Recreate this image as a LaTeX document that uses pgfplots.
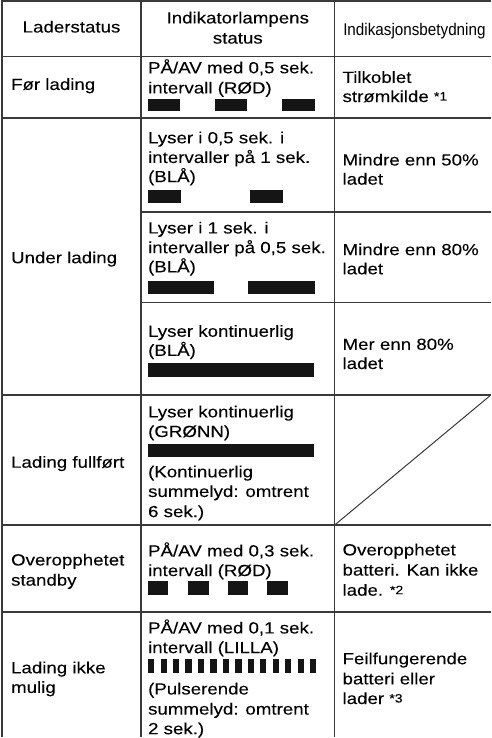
\documentclass[border=0pt]{standalone}
\usepackage{pgfplots}
\pgfplotsset{compat=1.18}
\usepackage{fontspec}
\setmainfont{Liberation Sans}[FakeStretch=1.16, FakeBold=0.05]
\newfontfamily\condfont{Liberation Sans}[FakeStretch=0.9]
\definecolor{rulec}{HTML}{3A3A3A}
\definecolor{barc}{HTML}{151515}
\begin{document}
\begin{tikzpicture}[
  txt/.style={anchor=base west, inner sep=0pt, outer sep=0pt, text=black, font=\fontsize{16}{20}\selectfont},
  ctxt/.style={anchor=base, inner sep=0pt, outer sep=0pt, text=black, font=\fontsize{16}{20}\selectfont}]
\newcommand{\fn}[1]{\raisebox{1.5pt}{\fontsize{12}{12}\selectfont *#1}}
\begin{axis}[width=490pt, height=738pt, scale only axis,
  xmin=0, xmax=490, ymin=0, ymax=738, y dir=reverse,
  hide axis, clip=false]
% ---- table rules ----
\addplot[rulec, line width=2pt, mark=none] coordinates {(4,8) (490,8)};
\addplot[rulec, line width=1.4pt, mark=none, unbounded coords=jump] coordinates {
  (5,63) (490,63) (nan,nan)
  (5,124) (490,124) (nan,nan)
  (143,217) (490,217) (nan,nan)
  (143,307) (490,307) (nan,nan)
  (5,399) (490,399) (nan,nan)
  (5,528) (490,528) (nan,nan)
  (5,614) (490,614)};
\addplot[rulec, line width=2.5pt, mark=none] coordinates {(5,8) (5,738)};
\addplot[rulec, line width=1.4pt, mark=none, unbounded coords=jump] coordinates {
  (143,8) (143,738) (nan,nan) (335,8) (335,738)};
\addplot[rulec, line width=1pt, mark=none] coordinates {(335,528) (490,399)};
% ---- indicator patterns (on-segments) ----
\addplot[barc, line width=12.5pt, mark=none, unbounded coords=jump] coordinates {
  (150,111) (182,111) (nan,nan) (216,111) (248,111) (nan,nan) (283,111) (316,111)};
\addplot[barc, line width=13pt, mark=none, unbounded coords=jump] coordinates {
  (150,201.5) (183,201.5) (nan,nan) (251,201.5) (284,201.5)};
\addplot[barc, line width=13pt, mark=none, unbounded coords=jump] coordinates {
  (150,292.5) (215,292.5) (nan,nan) (249,292.5) (316,292.5)};
\addplot[barc, line width=13.5pt, mark=none] coordinates {(150,374) (315,374)};
\addplot[barc, line width=12.5pt, mark=none] coordinates {(150,454) (315,454)};
\addplot[barc, line width=14pt, mark=none, unbounded coords=jump] coordinates {
  (150,590) (170,590) (nan,nan) (190,590) (210,590) (nan,nan)
  (229,590) (249,590) (nan,nan) (268,590) (289,590)};
\addplot[barc, line width=14pt, mark=none, unbounded coords=jump] coordinates {
  (150,668) (156,668) (nan,nan) (162.4,668) (168.4,668) (nan,nan)
  (174.8,668) (180.8,668) (nan,nan) (187.1,668) (193.1,668) (nan,nan)
  (199.5,668) (205.5,668) (nan,nan) (211.9,668) (217.9,668) (nan,nan)
  (224.3,668) (230.3,668) (nan,nan) (236.7,668) (242.7,668) (nan,nan)
  (249.0,668) (255.0,668) (nan,nan) (261.4,668) (267.4,668) (nan,nan)
  (273.8,668) (279.8,668) (nan,nan) (286.2,668) (292.2,668) (nan,nan)
  (298.6,668) (304.6,668) (nan,nan) (311,668) (317,668)};
% ---- header ----
\node[ctxt] at (axis cs:74,39) {Laderstatus};
\node[ctxt] at (axis cs:239,30) {Indikatorlampens};
\node[ctxt] at (axis cs:239,50) {status};
\node[anchor=base west, inner sep=0pt, font=\condfont\fontsize{16.8}{20}\selectfont] at (axis cs:343.5,42) {Indikasjonsbetydning};
% ---- row: Før lading ----
\node[txt] at (axis cs:14,96) {Før lading};
\node[txt] at (axis cs:150,79.5) {PÅ/AV med 0,5 sek.};
\node[txt] at (axis cs:150,99.5) {intervall (RØD)};
\node[txt] at (axis cs:343,89) {Tilkoblet};
\node[txt] at (axis cs:343,108) {strømkilde \fn{1}};
% ---- rows: Under lading ----
\node[txt] at (axis cs:14,268) {Under lading};
\node[txt] at (axis cs:150,149) {Lyser i 0,5 sek. i};
\node[txt] at (axis cs:150,168.5) {intervaller på 1 sek.};
\node[txt] at (axis cs:150,187.5) {(BLÅ)};
\node[txt] at (axis cs:343,171) {Mindre enn 50\%};
\node[txt] at (axis cs:343,190) {ladet};
\node[txt] at (axis cs:150,238.5) {Lyser i 1 sek. i};
\node[txt] at (axis cs:150,258) {intervaller på 0,5 sek.};
\node[txt] at (axis cs:150,277) {(BLÅ)};
\node[txt] at (axis cs:343,260) {Mindre enn 80\%};
\node[txt] at (axis cs:343,279) {ladet};
\node[txt] at (axis cs:150,341) {Lyser kontinuerlig};
\node[txt] at (axis cs:150,360) {(BLÅ)};
\node[txt] at (axis cs:343,354) {Mer enn 80\%};
\node[txt] at (axis cs:343,373) {ladet};
% ---- row: Lading fullført ----
\node[txt] at (axis cs:14,471) {Lading fullført};
\node[txt] at (axis cs:150,421) {Lyser kontinuerlig};
\node[txt] at (axis cs:150,440.5) {(GRØNN)};
\node[txt] at (axis cs:150,480.5) {(Kontinuerlig};
\node[txt] at (axis cs:150,500) {summelyd: omtrent};
\node[txt] at (axis cs:150,520) {6 sek.)};
% ---- row: Overopphetet standby ----
\node[txt] at (axis cs:14,568) {Overopphetet};
\node[txt] at (axis cs:14,588) {standby};
\node[txt] at (axis cs:150,559) {PÅ/AV med 0,3 sek.};
\node[txt] at (axis cs:150,578.5) {intervall (RØD)};
\node[txt] at (axis cs:343,558) {Overopphetet};
\node[txt] at (axis cs:343,578) {batteri. Kan ikke};
\node[txt] at (axis cs:343,598) {lade. \fn{2}};
% ---- row: Lading ikke mulig ----
\node[txt] at (axis cs:14,675) {Lading ikke};
\node[txt] at (axis cs:14,694.5) {mulig};
\node[txt] at (axis cs:150,635.5) {PÅ/AV med 0,1 sek.};
\node[txt] at (axis cs:150,655) {intervall (LILLA)};
\node[txt] at (axis cs:150,696) {(Pulserende};
\node[txt] at (axis cs:150,716) {summelyd: omtrent};
\node[txt] at (axis cs:150,735.5) {2 sek.)};
\node[txt] at (axis cs:343,666) {Feilfungerende};
\node[txt] at (axis cs:343,686) {batteri eller};
\node[txt] at (axis cs:343,705.5) {lader \fn{3}};
\end{axis}
\end{tikzpicture}
\end{document}
